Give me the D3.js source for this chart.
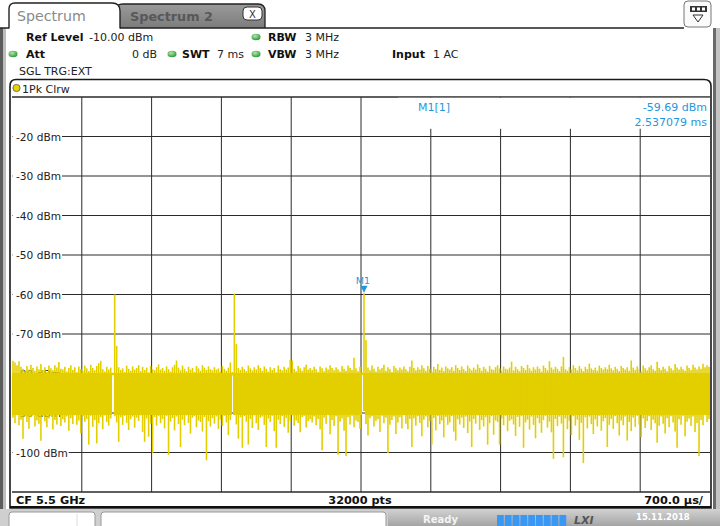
<!DOCTYPE html>
<html>
<head>
<meta charset="utf-8">
<script src="https://cdn.jsdelivr.net/npm/d3@7.9.0/dist/d3.min.js"></script>
<style>
  body { margin: 0; background: #fff; }
  svg { display: block; }
  text { font-family: "DejaVu Sans", Verdana, sans-serif; }
</style>
</head>
<body>
<svg id="chart" width="720" height="526"></svg>
<script>
// sweep: 700 µs/div, 10 divisions, trace shown as min/max per 0.02 ms column
const sweepMs = 7;
const timeDivs = [0.7, 1.4, 2.1, 2.8, 3.5, 4.2, 4.9, 5.6, 6.3];
const gridLevels = [-10, -20, -30, -40, -50, -60, -70, -80, -90, -100, -110];
const levelTicks = [-20, -30, -40, -50, -60, -70, -80, -90, -100];

const traceMax = [
  -76.8,-77.2,-77.9,-76.9,-78.3,-78.8,-79.4,-78.1,-79.0,-77.8,-78.6,-79.3,-78.2,-78.9,-77.6,-79.1,-78.4,-79.6,-78.0,-78.7,-79.2,-77.9,-78.5,-77.1,-78.8,
  -79.0,-78.3,-79.5,-78.6,-77.9,-79.1,-78.4,-79.7,-78.2,-78.9,-79.3,-78.0,-78.7,-79.4,-77.8,-78.6,-79.2,-78.1,-77.4,-76.8,-78.9,-79.5,-78.3,-79.0,-78.5,
  -79.8,-60.0,-73.0,-78.4,-79.1,-78.7,-79.6,-78.0,-78.8,-79.3,-78.2,-79.0,-78.6,-77.9,-79.4,-78.3,-79.1,-78.5,-79.7,-78.1,-78.9,-79.2,-78.4,-77.7,-79.0,
  -78.6,-79.3,-78.2,-78.9,-79.5,-78.4,-77.8,-76.7,-78.5,-79.2,-78.0,-78.8,-79.4,-78.3,-79.0,-78.6,-79.6,-78.1,-78.7,-79.3,-77.9,-78.5,-79.1,-78.2,-78.9,
  -79.2,-78.4,-79.0,-78.7,-79.5,-78.1,-78.8,-79.3,-78.5,-77.2,-79.6,-59.8,-72.5,-78.6,-79.1,-78.3,-78.9,-79.4,-78.0,-78.7,-79.2,-78.4,-79.0,-77.9,-78.6,
  -79.3,-78.2,-78.8,-79.5,-78.4,-79.1,-78.6,-79.7,-78.0,-78.9,-79.2,-78.3,-79.0,-78.5,-76.6,-76.7,-78.8,-79.4,-78.1,-78.7,-79.3,-78.4,-77.8,-79.0,-78.6,
  -79.1,-78.3,-78.9,-79.6,-78.2,-78.7,-79.4,-78.5,-79.0,-77.9,-78.6,-79.2,-78.4,-78.9,-79.5,-78.1,-78.8,-79.3,-78.0,-78.6,-79.1,-76.0,-78.7,-79.4,-78.3,
  -79.7,-59.69,-71.5,-78.5,-79.2,-78.0,-78.8,-79.5,-78.3,-79.0,-78.6,-77.8,-79.3,-78.4,-78.9,-79.6,-78.1,-78.7,-79.2,-78.5,-79.0,-78.2,-78.9,-79.4,-78.3,
  -76.7,-78.6,-79.2,-78.4,-79.0,-77.9,-78.7,-79.3,-78.1,-78.8,-79.5,-78.3,-78.9,-77.6,-79.1,-78.5,-79.4,-78.2,-78.7,-79.0,-78.4,-79.3,-77.9,-78.6,-79.1,
  -78.2,-78.9,-79.4,-78.0,-78.7,-79.2,-78.5,-79.0,-77.7,-78.6,-79.3,-78.3,-78.8,-79.5,-78.1,-78.9,-79.1,-78.4,-77.9,-78.7,-79.3,-78.2,-78.8,-79.0,-78.5,
  -77.0,-79.2,-78.3,-78.9,-79.4,-78.1,-78.6,-79.1,-77.8,-78.7,-79.3,-78.4,-79.0,-78.2,-78.8,-79.5,-78.0,-78.6,-79.2,-76.9,-78.5,-79.0,-78.3,-78.8,-79.4,
  -78.2,-75.8,-78.9,-79.3,-78.4,-79.0,-77.9,-78.6,-79.2,-78.1,-78.8,-79.4,-78.3,-78.9,-77.5,-78.7,-79.1,-78.5,-79.3,-78.0,-78.6,-79.0,-78.4,-78.9,-77.8,
  -78.7,-79.2,-78.3,-78.9,-79.4,-78.1,-78.6,-79.0,-78.4,-79.3,-76.7,-78.5,-79.1,-78.2,-78.8,-79.5,-78.0,-78.7,-79.2,-78.4,-77.9,-78.9,-79.3,-77.0,-78.6,
  -79.1,-78.3,-78.8,-79.4,-78.1,-78.7,-79.2,-77.6,-78.5,-79.0,-78.3,-78.9,-79.3,-78.0,-78.6,-79.1,-77.8,-78.5,-79.0,-78.2,-78.8,-77.5,-78.4,-77.9,-78.3
];

const traceMin = [
  -91.2,-92.6,-90.4,-93.1,-91.7,-96.5,-90.9,-92.3,-94.0,-91.1,-90.6,-93.4,-91.9,-92.7,-97.0,-90.8,-92.1,-93.6,-91.4,-90.7,-94.2,-91.8,-92.9,-90.5,-93.3,
  -91.6,-92.4,-90.9,-94.5,-91.3,-92.8,-90.6,-93.0,-91.9,-95.1,-90.8,-92.2,-91.5,-98.0,-90.7,-93.5,-91.8,-97.7,-92.6,-91.0,-94.1,-90.6,-92.3,-93.2,-91.4,
  -80.3,-90.8,-92.4,-97.3,-91.1,-93.0,-90.7,-92.5,-94.3,-91.6,-90.9,-93.7,-91.2,-92.0,-90.6,-94.8,-97.3,-91.4,-96.0,-92.7,-100.1,-91.0,-93.2,-90.8,-92.6,
  -91.5,-93.9,-90.7,-100.6,-92.2,-91.3,-94.4,-90.9,-92.8,-98.6,-91.7,-93.1,-90.6,-92.5,-95.2,-91.2,-90.8,-93.6,-91.9,-92.3,-94.7,-91.0,-102.0,-92.1,-93.4,
  -91.3,-92.7,-90.9,-94.0,-91.6,-93.3,-90.7,-92.4,-95.6,-91.8,-80.5,-90.5,-92.9,-96.5,-91.1,-98.8,-90.8,-92.2,-98.0,-91.5,-93.8,-90.6,-92.6,-94.3,-91.2,
  -90.9,-93.0,-98.6,-91.4,-92.3,-90.7,-94.6,-98.8,-91.7,-92.8,-90.8,-93.5,-91.3,-95.0,-92.1,-90.6,-93.2,-91.9,-92.5,-94.9,-91.0,-90.7,-93.7,-92.0,-91.6,
  -92.4,-90.9,-93.1,-91.5,-94.2,-99.4,-91.2,-92.7,-90.6,-95.4,-91.8,-93.3,-90.8,-100.6,-92.2,-91.4,-94.5,-100.9,-91.1,-92.9,-90.7,-93.6,-91.9,-92.3,-94.0,
  -80.3,-89.5,-92.8,-95.7,-91.3,-90.8,-93.4,-92.0,-91.6,-94.8,-90.7,-92.6,-91.2,-100.1,-93.0,-91.8,-90.9,-95.3,-92.4,-91.1,-93.9,-90.6,-92.7,-94.1,-91.5,
  -98.6,-91.4,-93.2,-90.8,-92.5,-95.9,-91.7,-90.9,-93.6,-92.1,-98.0,-91.3,-94.4,-90.7,-92.8,-91.9,-96.2,-91.0,-93.0,-92.4,-90.8,-94.7,-97.0,-91.6,-92.9,
  -91.2,-93.8,-90.9,-95.1,-92.2,-98.6,-91.5,-92.7,-90.6,-94.3,-91.8,-93.4,-91.1,-98.0,-92.6,-90.8,-95.5,-91.9,-92.3,-98.0,-91.4,-93.1,-90.7,-94.6,-92.0,
  -91.6,-92.9,-95.8,-91.0,-93.5,-90.8,-98.8,-92.4,-91.7,-94.2,-90.9,-93.0,-96.4,-91.3,-92.6,-95.0,-91.8,-90.7,-93.7,-92.2,-94.9,-101.6,-91.5,-93.3,-90.9,
  -92.7,-101.2,-91.4,-94.1,-92.0,-95.6,-90.8,-93.2,-91.7,-96.8,-92.5,-102.7,-91.1,-93.9,-90.9,-92.8,-95.3,-91.6,-93.4,-90.7,-94.5,-92.1,-91.3,-98.6,-93.0,
  -91.5,-94.0,-90.8,-92.6,-95.7,-91.9,-93.1,-90.9,-97.0,-92.3,-94.6,-91.2,-93.5,-90.7,-92.9,-96.1,-91.4,-93.8,-92.0,-90.8,-94.3,-91.7,-92.6,-97.5,-93.2,
  -90.9,-92.7,-95.2,-91.3,-93.6,-90.8,-92.4,-94.7,-98.8,-91.6,-93.0,-90.7,-95.9,-92.2,-91.4,-93.3,-90.9,-94.8,-92.5,-100.9,-91.8,-93.1,-90.6,-92.3,-91.5
];

const markerSample = 176;
const markerLevel = -59.69;
const markerTimeText = '2.537079 ms';

const infoBold = [
  { t: 'Ref Level', x: 26, row: 0 }, { t: 'RBW', x: 268, row: 0 },
  { t: 'Att', x: 26, row: 1 }, { t: 'SWT', x: 182, row: 1 },
  { t: 'VBW', x: 268, row: 1 }, { t: 'Input', x: 392, row: 1 }
];
const infoValues = [
  { t: '-10.00 dBm', x: 89, row: 0 }, { t: '3 MHz', x: 305, row: 0 },
  { t: '0 dB', x: 157, row: 1, end: true }, { t: '7 ms', x: 217, row: 1 },
  { t: '3 MHz', x: 305, row: 1 }, { t: '1 AC', x: 433, row: 1 },
  { t: 'SGL TRG:EXT', x: 19, row: 2 }
];
const greenDots = [ { x: 256, row: 0 }, { x: 13, row: 1 }, { x: 172, row: 1 }, { x: 256, row: 1 } ];
const rowBase = [41, 58, 75];

const svg = d3.select('#chart');
const W = 720, H = 526;
const plot = { left: 12, right: 710, top: 97, bottom: 492 };
const yellow = '#e3cf00';

const defs = svg.append('defs');
const g1 = defs.append('radialGradient').attr('id', 'led').attr('cx', '40%').attr('cy', '35%').attr('r', '65%');
g1.append('stop').attr('offset', '0%').attr('stop-color', '#b4e6b0');
g1.append('stop').attr('offset', '100%').attr('stop-color', '#2f9a3a');
const g2 = defs.append('linearGradient').attr('id', 'tab2').attr('x1', 0).attr('y1', 0).attr('x2', 0).attr('y2', 1);
g2.append('stop').attr('offset', '0%').attr('stop-color', '#9a9a9a');
g2.append('stop').attr('offset', '100%').attr('stop-color', '#7c7c7c');
const g3 = defs.append('linearGradient').attr('id', 'status').attr('x1', 0).attr('y1', 0).attr('x2', 0).attr('y2', 1);
g3.append('stop').attr('offset', '0%').attr('stop-color', '#d2d2d2');
g3.append('stop').attr('offset', '100%').attr('stop-color', '#a4a4a4');
defs.append('clipPath').attr('id', 'plotClip').append('rect')
  .attr('x', plot.left).attr('y', plot.top).attr('width', plot.right - plot.left).attr('height', plot.bottom - plot.top);

svg.append('rect').attr('width', W).attr('height', H).attr('fill', '#fff');

// window frame
svg.append('rect').attr('x', 0).attr('y', 28).attr('width', 3).attr('height', 482).attr('fill', '#5c5c5c');
svg.append('rect').attr('x', 3).attr('y', 28).attr('width', 3).attr('height', 482).attr('fill', '#bdbdbd');
svg.append('rect').attr('x', 713).attr('y', 28).attr('width', 3).attr('height', 482).attr('fill', '#6a6a6a');
svg.append('rect').attr('x', 716).attr('y', 28).attr('width', 4).attr('height', 482).attr('fill', '#c4c4c4');

// tabs
svg.append('path').attr('d', 'M116,28 V10 Q116,4 123,4 H258 Q265,4 265,11 V28')
  .attr('fill', 'url(#tab2)').attr('stroke', '#222').attr('stroke-width', 1.3);
svg.append('text').attr('x', 130).attr('y', 20.5).attr('font-size', 12.8).attr('font-weight', 'bold')
  .attr('fill', '#585858').text('Spectrum 2');
svg.append('rect').attr('x', 243).attr('y', 7).attr('width', 19).attr('height', 13).attr('rx', 4)
  .attr('fill', '#fff').attr('stroke', '#333');
svg.append('text').attr('x', 252.5).attr('y', 17.5).attr('font-size', 10).attr('text-anchor', 'middle').attr('fill', '#333').text('X');
svg.append('path').attr('d', 'M0,28 H9 M120,28 H684')
  .attr('stroke', '#222').attr('stroke-width', 1.4).attr('fill', 'none');
svg.append('path').attr('d', 'M9,28.5 V9 Q9,3 15,3 H112 Q120,3 120,11 V28.5')
  .attr('fill', '#fff').attr('stroke', '#222').attr('stroke-width', 1.4);
svg.append('text').attr('x', 17).attr('y', 20.5).attr('font-size', 14.2).attr('fill', '#8a8a8a').text('Spectrum');

// top-right menu icon
svg.append('rect').attr('x', 684).attr('y', 1).attr('width', 27).attr('height', 26).attr('rx', 4)
  .attr('fill', '#fbfbfb').attr('stroke', '#777');
svg.append('rect').attr('x', 690).attr('y', 6).attr('width', 17).attr('height', 6).attr('fill', '#333');
[692, 697, 702].forEach(x => svg.append('rect').attr('x', x).attr('y', 7.5).attr('width', 3).attr('height', 3).attr('fill', '#fff'));
svg.append('path').attr('d', 'M693,15 H703 L698,22 Z').attr('fill', 'none').attr('stroke', '#333');

// settings rows
svg.selectAll('text.lbl').data(infoBold).enter().append('text').attr('class', 'lbl')
  .attr('x', d => d.x).attr('y', d => rowBase[d.row]).attr('font-size', 11).attr('font-weight', 'bold')
  .attr('fill', '#111').text(d => d.t);
svg.selectAll('text.val').data(infoValues).enter().append('text').attr('class', 'val')
  .attr('x', d => d.x).attr('y', d => rowBase[d.row]).attr('font-size', 11)
  .attr('text-anchor', d => d.end ? 'end' : 'start').attr('fill', '#222').text(d => d.t);
svg.selectAll('ellipse.led').data(greenDots).enter().append('ellipse').attr('class', 'led')
  .attr('cx', d => d.x).attr('cy', d => rowBase[d.row] - 4).attr('rx', 4.5).attr('ry', 3.2)
  .attr('fill', 'url(#led)');

// trace window
svg.append('path').attr('d', 'M10,508 V86 Q10,79.5 16,79.5 H704 Q711,79.5 711,86 V508 Z')
  .attr('fill', '#fff').attr('stroke', '#1a1a1a').attr('stroke-width', 1.6);
svg.append('circle').attr('cx', 16.5).attr('cy', 88).attr('r', 3.6).attr('fill', '#e8d200').attr('stroke', '#555').attr('stroke-width', 0.8);
svg.append('text').attr('x', 22).attr('y', 92.5).attr('font-size', 11).attr('fill', '#222').text('1Pk Clrw');

const x = d3.scaleLinear().domain([0, sweepMs]).range([plot.left, plot.right]);
const y = d3.scaleLinear().domain([-10, -110]).range([plot.top, plot.bottom]);
const col = d3.scaleBand().domain(d3.range(traceMax.length)).range([plot.left, plot.right]).padding(0);

const grid = svg.append('g');
grid.selectAll('line.v').data(timeDivs).enter().append('line').attr('class', 'v')
  .attr('x1', d => x(d)).attr('x2', d => x(d)).attr('y1', plot.top).attr('y2', plot.bottom)
  .attr('stroke', '#2a2a2a').attr('stroke-width', 1);
grid.selectAll('line.h').data(gridLevels).enter().append('line').attr('class', 'h')
  .attr('x1', plot.left).attr('x2', plot.right).attr('y1', d => y(d)).attr('y2', d => y(d))
  .attr('stroke', '#2a2a2a').attr('stroke-width', d => (d === -10 || d === -110) ? 1.4 : 1);

// level labels sit on the grid with a white backing
const lab = svg.append('g').selectAll('g').data(levelTicks).enter().append('g');
lab.append('text').attr('x', 16).attr('y', d => y(d) + 4).attr('font-size', 10.6).attr('fill', '#222')
  .text(d => `${d} dBm`);
lab.each(function () {
  const t = d3.select(this).select('text');
  const b = t.node().getBBox();
  d3.select(this).insert('rect', 'text').attr('x', plot.left + 0.5).attr('y', b.y)
    .attr('width', b.x + b.width - plot.left + 0.5).attr('height', b.height).attr('fill', '#fff');
});

// marker readout area
svg.append('rect').attr('x', 398).attr('y', plot.top + 0.8).attr('width', plot.right - 398).attr('height', 31).attr('fill', '#fff');
const blue = '#1f97dc';
svg.append('text').attr('x', 418).attr('y', 110.5).attr('font-size', 11).attr('fill', blue).text('M1[1]');
svg.append('text').attr('x', 707).attr('y', 110.5).attr('font-size', 11).attr('fill', blue)
  .attr('text-anchor', 'end').text(`${markerLevel.toFixed(2)} dBm`);
svg.append('text').attr('x', 707).attr('y', 126).attr('font-size', 11).attr('fill', blue)
  .attr('text-anchor', 'end').text(markerTimeText);

// trace: a dense core per column, then a min..max stroke per sample
const coreTop = -79.9, coreBot = -90.4;
const trace = svg.append('g').attr('clip-path', 'url(#plotClip)');
trace.append('g').attr('shape-rendering', 'crispEdges').selectAll('rect').data(traceMax).enter().append('rect')
  .attr('x', (d, i) => col(i)).attr('width', col.bandwidth() + 0.6)
  .attr('y', d => y(Math.min(d, coreTop)))
  .attr('height', (d, i) => Math.max(0, y(Math.max(traceMin[i], coreBot)) - y(Math.min(d, coreTop))))
  .attr('fill', yellow);
trace.append('g').selectAll('line').data(traceMax).enter().append('line')
  .attr('x1', (d, i) => col(i) + col.bandwidth() / 2).attr('x2', (d, i) => col(i) + col.bandwidth() / 2)
  .attr('y1', d => y(d)).attr('y2', (d, i) => y(traceMin[i]))
  .attr('stroke', yellow).attr('stroke-width', 1.6);

// marker M1
const mx = col(markerSample) + col.bandwidth() / 2;
const my = y(markerLevel) - 0.5;
svg.append('path').attr('d', `M${mx - 3.5},${my - 7} H${mx + 3.5} L${mx},${my} Z`).attr('fill', blue);
svg.append('text').attr('x', mx - 1).attr('y', my - 9).attr('font-size', 9.5).attr('text-anchor', 'middle')
  .attr('fill', blue).text('M1');

// footer
svg.append('line').attr('x1', 10).attr('x2', 711).attr('y1', 507).attr('y2', 507).attr('stroke', '#111').attr('stroke-width', 2);
svg.append('text').attr('x', 16).attr('y', 504).attr('font-size', 11.3).attr('font-weight', 'bold').attr('fill', '#111').text('CF 5.5 GHz');
svg.append('text').attr('x', 360).attr('y', 504).attr('font-size', 11.3).attr('font-weight', 'bold').attr('text-anchor', 'middle')
  .attr('fill', '#111').text(`${32000} pts`);
svg.append('text').attr('x', 703).attr('y', 504).attr('font-size', 11.3).attr('font-weight', 'bold').attr('text-anchor', 'end')
  .attr('fill', '#111').text('700.0 µs/');

// status bar
svg.append('rect').attr('x', 0).attr('y', 509).attr('width', W).attr('height', 17).attr('fill', '#cfcfcf');
svg.append('rect').attr('x', 9).attr('y', 512).attr('width', 86).attr('height', 18).attr('rx', 3).attr('fill', '#fff').attr('stroke', '#9a9a9a');
svg.append('line').attr('x1', 77).attr('x2', 77).attr('y1', 514).attr('y2', 526).attr('stroke', '#ddd');
svg.append('rect').attr('x', 101).attr('y', 512).attr('width', 285).attr('height', 18).attr('rx', 3).attr('fill', '#fff').attr('stroke', '#9a9a9a');
svg.append('rect').attr('x', 388).attr('y', 509).attr('width', W - 388).attr('height', 17).attr('fill', 'url(#status)');
svg.append('text').attr('x', 423).attr('y', 523).attr('font-size', 10).attr('font-weight', 'bold').attr('fill', '#f4f4f4').text('Ready');
d3.range(9).forEach(i => svg.append('rect').attr('x', 497 + i * 7.8).attr('y', 515).attr('width', 6.8).attr('height', 11)
  .attr('fill', '#3a98f5'));
svg.append('text').attr('x', 574).attr('y', 523.5).attr('font-size', 11).attr('font-weight', 'bold').attr('font-style', 'italic')
  .attr('fill', '#555').text('LXI');
svg.append('text').attr('x', 636).attr('y', 520).attr('font-size', 8.5).attr('font-weight', 'bold').attr('fill', '#fff').text('15.11.2018');
</script>
</body>
</html>
